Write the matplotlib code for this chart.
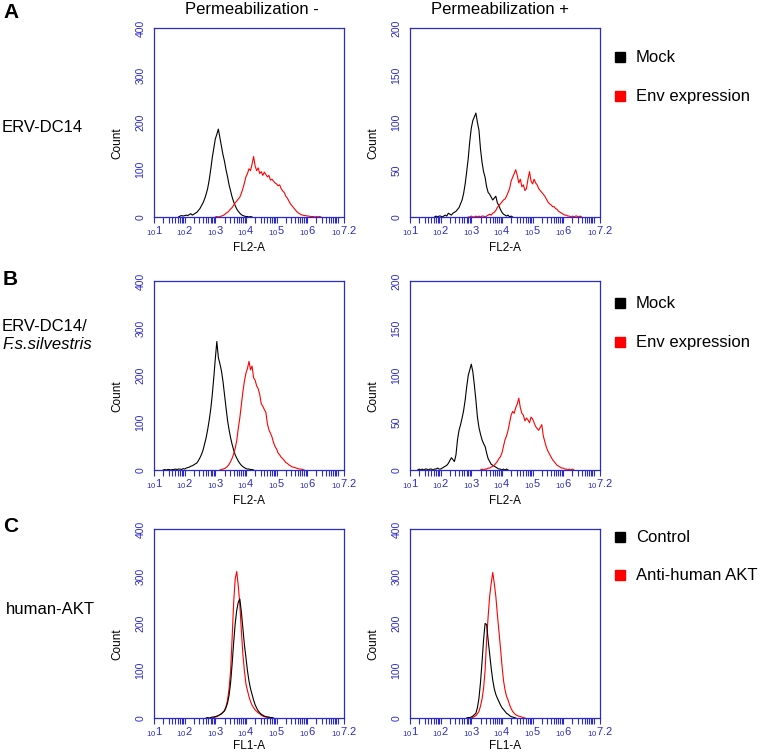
import numpy as np
import matplotlib
matplotlib.use("Agg")
import matplotlib.pyplot as plt
from matplotlib.ticker import LogLocator, NullFormatter

plt.rcParams["font.family"] = ["Liberation Sans", "DejaVu Sans"]

# histogram counts, one value per 0.05 decade, starting at the given log10 value
step = 0.05

# A, permeabilization -
a_minus_mock_start = 1.80
a_minus_mock = [0, 2, 3, 2, 3, 4, 3, 5, 7, 4, 6, 8, 10, 14, 18, 24, 30, 38, 48, 60,
                78, 100, 125, 145, 165, 175, 186, 168, 150, 132, 118, 100, 85, 68, 55,
                42, 32, 24, 17, 12, 8, 5, 3, 2, 1, 1, 0, 1, 0]
a_minus_env_start = 3.00
a_minus_env = [0, 1, 0, 1, 2, 3, 5, 8, 10, 13, 17, 20, 25, 30, 34, 38, 42, 50, 60, 72,
               85, 92, 102, 98, 112, 128, 108, 98, 104, 92, 96, 88, 95, 90, 85, 88, 78,
               80, 76, 72, 70, 66, 68, 60, 55, 52, 44, 40, 34, 28, 24, 20, 16, 12, 9, 7,
               5, 4, 3, 3, 2, 2, 1, 1, 1, 0, 1, 0, 1, 0]

# A, permeabilization +
a_plus_mock_start = 1.80
a_plus_mock = [0, 1, 0, 1, 1, 0, 1, 2, 1, 4, 3, 2, 4, 5, 6, 8, 10, 14, 18, 25, 35, 48,
               62, 80, 94, 102, 106, 110, 100, 92, 72, 58, 48, 42, 32, 26, 24, 21, 18,
               20, 22, 15, 12, 8, 5, 3, 2, 1, 2, 0, 1, 0]
a_plus_env_start = 2.90
a_plus_env = [0, 0, 1, 0, 0, 1, 0, 1, 0, 1, 1, 0, 1, 2, 3, 2, 4, 5, 7, 10, 12, 14, 16,
              18, 19, 22, 26, 30, 38, 42, 46, 50, 44, 36, 40, 32, 34, 28, 30, 40, 48, 38,
              35, 40, 36, 34, 30, 28, 26, 24, 22, 19, 16, 14, 13, 11, 11, 9, 8, 6, 5, 4,
              3, 2, 2, 1, 1, 0, 1, 0, 1, 1, 0, 1, 0]

# B, permeabilization -
b_minus_mock_start = 1.30
b_minus_mock = [0, 1, 0, 1, 1, 0, 1, 1, 2, 1, 2, 2, 1, 3, 2, 4, 5, 6, 8, 9, 11, 13, 15,
                20, 26, 33, 42, 55, 68, 85, 105, 128, 158, 195, 235, 272, 238, 225, 210,
                188, 160, 132, 105, 85, 68, 54, 42, 32, 25, 19, 14, 10, 7, 5, 3, 2, 2, 1,
                1, 0]
b_minus_env_start = 3.15
b_minus_env = [0, 1, 2, 3, 5, 8, 12, 18, 25, 34, 46, 62, 88, 110, 138, 165, 188, 205,
               215, 230, 212, 220, 195, 190, 178, 172, 160, 140, 135, 128, 122, 98, 85,
               78, 70, 58, 50, 44, 36, 32, 27, 24, 20, 16, 14, 11, 9, 7, 6, 5, 4, 3, 2,
               2, 1, 0]

# B, permeabilization +
b_plus_mock_start = 1.25
b_plus_mock = [0, 1, 0, 1, 0, 1, 1, 0, 1, 1, 0, 1, 1, 2, 1, 1, 2, 3, 4, 5, 7, 10, 13,
               11, 9, 16, 32, 42, 48, 55, 63, 74, 88, 100, 106, 112, 104, 90, 74, 56, 45,
               38, 32, 28, 25, 18, 12, 9, 6, 5, 4, 3, 2, 1, 1, 0, 1, 0, 1, 0]
b_plus_env_start = 3.30
b_plus_env = [0, 1, 0, 1, 1, 2, 2, 3, 4, 5, 7, 9, 12, 14, 18, 25, 32, 36, 42, 50, 58,
              62, 60, 66, 70, 76, 66, 60, 58, 52, 55, 53, 50, 56, 54, 50, 46, 44, 42, 45,
              48, 36, 30, 24, 20, 17, 14, 11, 9, 7, 5, 4, 3, 2, 2, 1, 1, 0, 1, 0, 1, 0]

# C, permeabilization -
c_minus_ctrl_start = 2.70
c_minus_ctrl = [0, 1, 0, 1, 2, 2, 3, 4, 5, 7, 9, 12, 15, 22, 32, 48, 75, 115, 160, 200,
                228, 245, 252, 225, 190, 155, 128, 100, 78, 62, 50, 38, 28, 21, 15, 11, 8,
                6, 4, 3, 2, 2, 1, 1, 0]
c_minus_akt_start = 2.90
c_minus_akt = [0, 1, 2, 3, 5, 7, 9, 12, 16, 24, 38, 62, 100, 170, 245, 295, 310, 280,
               240, 185, 135, 100, 72, 58, 45, 35, 27, 22, 17, 14, 11, 9, 6, 4, 3, 2, 2,
               1, 0]

# C, permeabilization +
c_plus_ctrl_start = 2.85
c_plus_ctrl = [0, 1, 1, 2, 4, 7, 10, 22, 42, 75, 118, 165, 200, 198, 165, 135, 105, 80,
               62, 50, 42, 35, 28, 22, 18, 14, 10, 8, 5, 3, 2, 1, 0]
c_plus_akt_start = 3.00
c_plus_akt = [0, 1, 3, 5, 9, 14, 25, 40, 62, 100, 165, 215, 258, 285, 308, 285, 258, 220,
              185, 150, 112, 80, 60, 46, 38, 28, 20, 14, 10, 7, 5, 4, 3, 2, 1, 0]

col_titles = ["Permeabilization -", "Permeabilization +"]
row_letters = ["A", "B", "C"]
x_labels = ["FL2-A", "FL2-A", "FL1-A"]
legend_labels = [["Mock", "Env expression"], ["Mock", "Env expression"],
                 ["Control", "Anti-human AKT"]]
y_max = [[400, 200], [400, 200], [400, 400]]
major_exp = [1, 2, 3, 4, 5, 6, 7, 7.2]
major_txt = ["1", "2", "3", "4", "5", "6", "", "7.2"]

panels = [
    [(a_minus_mock_start, a_minus_mock, a_minus_env_start, a_minus_env),
     (a_plus_mock_start, a_plus_mock, a_plus_env_start, a_plus_env)],
    [(b_minus_mock_start, b_minus_mock, b_minus_env_start, b_minus_env),
     (b_plus_mock_start, b_plus_mock, b_plus_env_start, b_plus_env)],
    [(c_minus_ctrl_start, c_minus_ctrl, c_minus_akt_start, c_minus_akt),
     (c_plus_ctrl_start, c_plus_ctrl, c_plus_akt_start, c_plus_akt)],
]

W, H = 760, 752
BLUE = "#2a2ad0"

fig = plt.figure(figsize=(W / 100, H / 100), dpi=100)


def px(x, y):
    return x / W, 1 - y / H


col_left = [154, 410]
col_width = 190
row_top = [28, 281, 529]
row_height = 189

major_lbl = [r"$\mathregular{_{10}%s}$" % t if t else "" for t in major_txt]

for r in range(3):
    for c in range(2):
        l = col_left[c] / W
        b = 1 - (row_top[r] + row_height) / H
        ax = fig.add_axes([l, b, col_width / W, row_height / H])
        s1, v1, s2, v2 = panels[r][c]
        x1 = 10 ** (s1 + step * np.arange(len(v1)))
        x2 = 10 ** (s2 + step * np.arange(len(v2)))
        if r == 2:
            ax.plot(x2, v2, color="red", lw=0.8)
            ax.plot(x1, v1, color="black", lw=0.8)
        else:
            ax.plot(x1, v1, color="black", lw=0.8)
            ax.plot(x2, v2, color="red", lw=0.8)

        ax.set_xscale("log")
        ax.set_xlim(10, 10 ** 7.2)
        ax.set_ylim(0, y_max[r][c])
        ax.set_xticks([10 ** e for e in major_exp])
        ax.set_xticklabels(major_lbl)
        ax.xaxis.set_minor_locator(LogLocator(base=10, subs=np.arange(2, 10), numticks=20))
        ax.xaxis.set_minor_formatter(NullFormatter())
        ax.set_yticks(np.linspace(0, y_max[r][c], 5))
        ax.tick_params(axis="x", which="both", direction="out", length=4, width=0.8,
                       color=BLUE, labelcolor=BLUE, labelsize=8, pad=1)
        ax.tick_params(axis="y", length=0, labelcolor=BLUE, labelsize=7.5, pad=6,
                       labelrotation=90)
        for lab in ax.get_yticklabels():
            lab.set_verticalalignment("center")
        for sp in ax.spines.values():
            sp.set_color(BLUE)
            sp.set_linewidth(0.9)

        ax.set_xlabel(x_labels[r], fontsize=8.5)
        ax.xaxis.set_label_coords(0.5, -0.13 if r < 2 else -0.115)
        ax.set_ylabel("Count", fontsize=8.5)
        ax.yaxis.set_label_coords(-0.16, 0.39)

# column titles
fig.text(*px(252, 10), col_titles[0], fontsize=12, ha="center", va="center")
fig.text(*px(500, 10), col_titles[1], fontsize=12, ha="center", va="center")

# panel letters and row labels
letter_y = [13, 279, 527]
for r in range(3):
    fig.text(*px(3, letter_y[r]), row_letters[r], fontsize=15, fontweight="bold",
             ha="left", va="center")
fig.text(*px(2, 128), "ERV-DC14", fontsize=12, ha="left", va="center")
fig.text(*px(2, 326), "ERV-DC14/", fontsize=12, ha="left", va="center")
fig.text(*px(2, 345), "F.s.silvestris", fontsize=12, ha="left", va="center",
         style="italic")
fig.text(*px(6, 610), "human-AKT", fontsize=12, ha="left", va="center")

# legends
legend_y = [(57, 96), (303, 342), (537, 575)]
for r in range(3):
    for k, color in enumerate(["black", "red"]):
        y = legend_y[r][k]
        fig.patches.append(plt.Rectangle(px(615, y + 5), 10 / W, 10 / H, color=color,
                                         transform=fig.transFigure, figure=fig))
        fig.text(*px(636, y), legend_labels[r][k], fontsize=12, ha="left", va="center")

fig.savefig("out.png", dpi=100)
